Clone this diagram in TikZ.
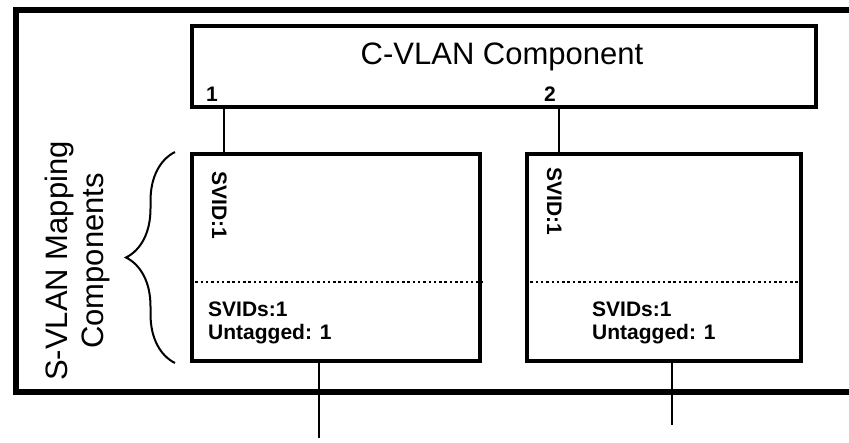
\documentclass[tikz,border=0pt]{standalone}
\usepackage{fontspec}
\setmainfont{Liberation Sans}
\usetikzlibrary{decorations.pathreplacing}

\newcommand{\titlesize}{\fontsize{31}{36}\selectfont}
\newcommand{\tagsize}{\fontsize{21}{23}\selectfont\bfseries}

\begin{document}
\begin{tikzpicture}
    [
      x = 1pt, y = -1pt,
      frame/.style = {line width = 6.5pt, line join = miter},
      compbox/.style = {draw, line width = 4pt, inner sep = 0pt},
      link/.style = {line width = 2pt},
      divider/.style = {line width = 2.5pt, dash pattern = on 2.5pt off 2.8pt},
      tag/.style = {font = \tagsize, inner sep = 0pt},
    ]

    \useasboundingbox (0,0) rectangle (849,443);

    % outer bridge frame
    \draw[frame] (849,10) -- (16,10) -- (16,392) -- (849,392);

    % C-VLAN component
    \node[compbox, minimum width = 624pt, minimum height = 81pt] (cvlan) at (504,66.5) {};
    \node[font = \titlesize, inner sep = 0pt, anchor = base] (title) at (502,65) {C-VLAN Component};
    \node[tag, anchor = base] (port1) at (212,102) {1};
    \node[tag, anchor = base] (port2) at (550,102) {2};

    % S-VLAN mapping components
    \node[compbox, minimum width = 288pt, minimum height = 207pt] (svlanA) at (336,257.5) {};
    \node[compbox, minimum width = 274pt, minimum height = 207pt] (svlanB) at (664,257.5) {};

    \node[tag, rotate = -90, anchor = base west] (vidA) at (212,171) {SVID:1};
    \node[tag, rotate = -90, anchor = base west] (vidB) at (547,167) {SVID:1};

    \coordinate (sepA) at (336,282);
    \coordinate (sepB) at (664,282);
    \draw[divider] (svlanA.west |- sepA) -- (svlanA.east |- sepA);
    \draw[divider] (svlanB.west |- sepB) -- (svlanB.east |- sepB);

    \node[tag, align = left, anchor = north west] (setA) at (208,302) {SVIDs:1\\Untagged: 1};
    \node[tag, align = left, anchor = north west] (setB) at (592,302) {SVIDs:1\\Untagged: 1};

    % connectors
    \coordinate (upA) at (224,107);
    \coordinate (upB) at (559,107);
    \coordinate (outA) at (319,438);
    \coordinate (outB) at (672,425);
    \draw[link] (upA) -- (upA |- svlanA.north);
    \draw[link] (upB) -- (upB |- svlanB.north);
    \draw[link] (outA |- svlanA.south) -- (outA);
    \draw[link] (outB |- svlanB.south) -- (outB);

    % brace and its label
    \draw[link, decorate, decoration = {brace, amplitude = 49pt}]
      ([xshift = -15pt]svlanA.south west) -- ([xshift = -15pt]svlanA.north west);
    \node[font = \titlesize, rotate = 90, align = center, inner sep = 0pt] (maplabel) at (77,261) {S-VLAN Mapping\\Components};

  \end{tikzpicture}
\end{document}
